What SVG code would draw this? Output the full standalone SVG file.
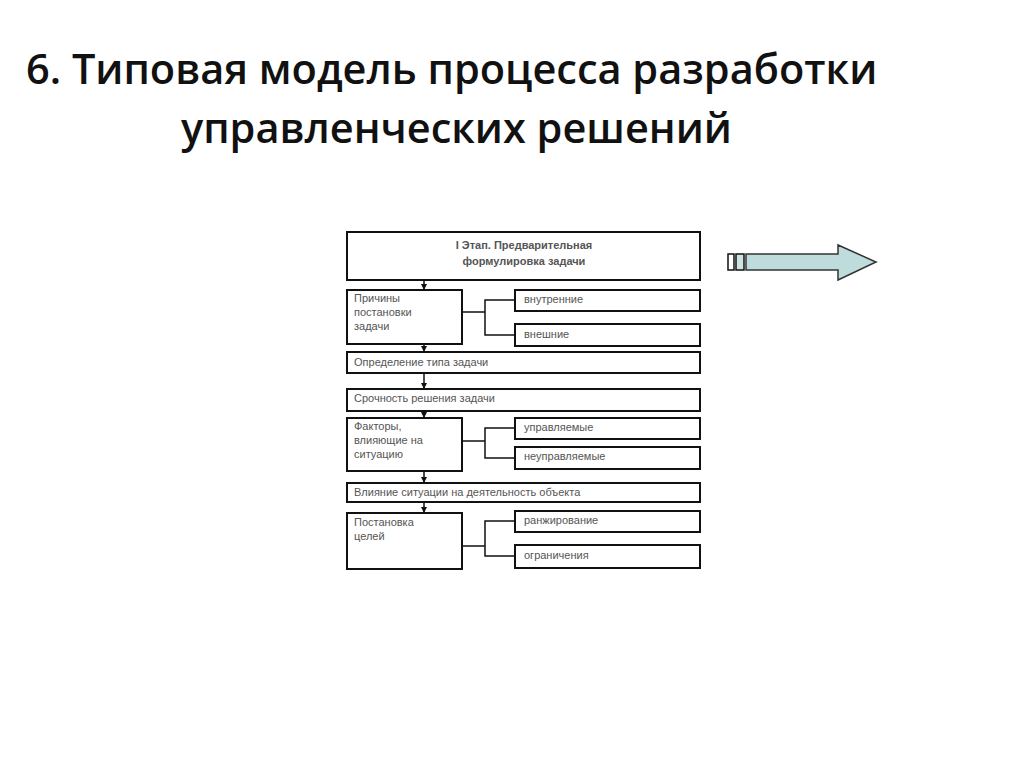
<svg xmlns="http://www.w3.org/2000/svg" width="1024" height="767" viewBox="0 0 1024 767">
<style>
.t{font-family:"Open Sans","Liberation Sans",sans-serif;font-weight:600;fill:#111}
.b{fill:#fff;stroke:#111;stroke-width:2}
.s{font-family:"Liberation Sans",sans-serif;font-size:11px;fill:#555}
.c{fill:none;stroke:#111;stroke-width:1.5}
</style>
<defs><marker id="a" markerWidth="6" markerHeight="6" refX="5" refY="3" orient="auto" markerUnits="userSpaceOnUse"><path d="M0,0 L6,3 L0,6 Z" fill="#111"/></marker></defs>
<rect width="1024" height="767" fill="#fff"/>
<text class="t" x="26" y="84" font-size="41.5">6. Типовая модель процесса разработки</text>
<text class="t" x="181" y="143" font-size="41.5">управленческих решений</text>
<g id="n1"><rect class="b" x="347" y="232" width="353" height="48"/><text class="s" x="524" y="249" text-anchor="middle" font-weight="bold">I Этап. Предварительная</text><text class="s" x="524" y="265" text-anchor="middle" font-weight="bold">формулировка задачи</text></g>
<g id="n2"><rect class="b" x="347" y="290" width="115" height="54"/><text class="s" x="354" y="302">Причины</text><text class="s" x="354" y="316">постановки</text><text class="s" x="354" y="330">задачи</text></g>
<g id="n3"><rect class="b" x="515" y="290" width="185" height="21"/><text class="s" x="524" y="303">внутренние</text></g>
<g id="n4"><rect class="b" x="515" y="324" width="185" height="22"/><text class="s" x="524" y="338">внешние</text></g>
<g id="n5"><rect class="b" x="347" y="352" width="353" height="21"/><text class="s" x="354" y="366">Определение типа задачи</text></g>
<g id="n6"><rect class="b" x="347" y="389" width="353" height="22"/><text class="s" x="354" y="402">Срочность решения задачи</text></g>
<g id="n7"><rect class="b" x="347" y="418" width="115" height="53"/><text class="s" x="354" y="430">Факторы,</text><text class="s" x="354" y="444">влияющие на</text><text class="s" x="354" y="458">ситуацию</text></g>
<g id="n8"><rect class="b" x="515" y="418" width="185" height="21"/><text class="s" x="524" y="431">управляемые</text></g>
<g id="n9"><rect class="b" x="515" y="447" width="185" height="22"/><text class="s" x="524" y="460">неуправляемые</text></g>
<g id="n10"><rect class="b" x="347" y="483" width="353" height="19"/><text class="s" x="354" y="496">Влияние ситуации на деятельность объекта</text></g>
<g id="n11"><rect class="b" x="347" y="513" width="115" height="56"/><text class="s" x="354" y="526">Постановка</text><text class="s" x="354" y="540">целей</text></g>
<g id="n12"><rect class="b" x="515" y="511" width="185" height="21"/><text class="s" x="524" y="524">ранжирование</text></g>
<g id="n13"><rect class="b" x="515" y="545" width="185" height="23"/><text class="s" x="524" y="559">ограничения</text></g>
<g id="arrow"><rect x="728" y="254" width="6" height="16" fill="#fff" stroke="#111" stroke-width="1.5"/><rect x="736" y="254" width="8" height="16" fill="#cfe3e3" stroke="#111" stroke-width="1.5"/><path d="M746,254 L838,254 L838,245 L876,262 L838,280 L838,270 L746,270 Z" fill="#bfdcdc" stroke="#333" stroke-width="1.5"/></g>
<g id="connectors">
<path class="c" d="M424,280 V289" marker-end="url(#a)"/>
<path class="c" d="M424,344 V351" marker-end="url(#a)"/>
<path class="c" d="M424,373 V388" marker-end="url(#a)"/>
<path class="c" d="M424,411 V417" marker-end="url(#a)"/>
<path class="c" d="M424,471 V482" marker-end="url(#a)"/>
<path class="c" d="M424,502 V512" marker-end="url(#a)"/>
<path class="c" d="M462,312 H485 M515,300 H485 V335 H515"/>
<path class="c" d="M462,441 H485 M515,428 H485 V458 H515"/>
<path class="c" d="M462,546 H485 M515,521 H485 V556 H515"/>
</g>
</svg>
